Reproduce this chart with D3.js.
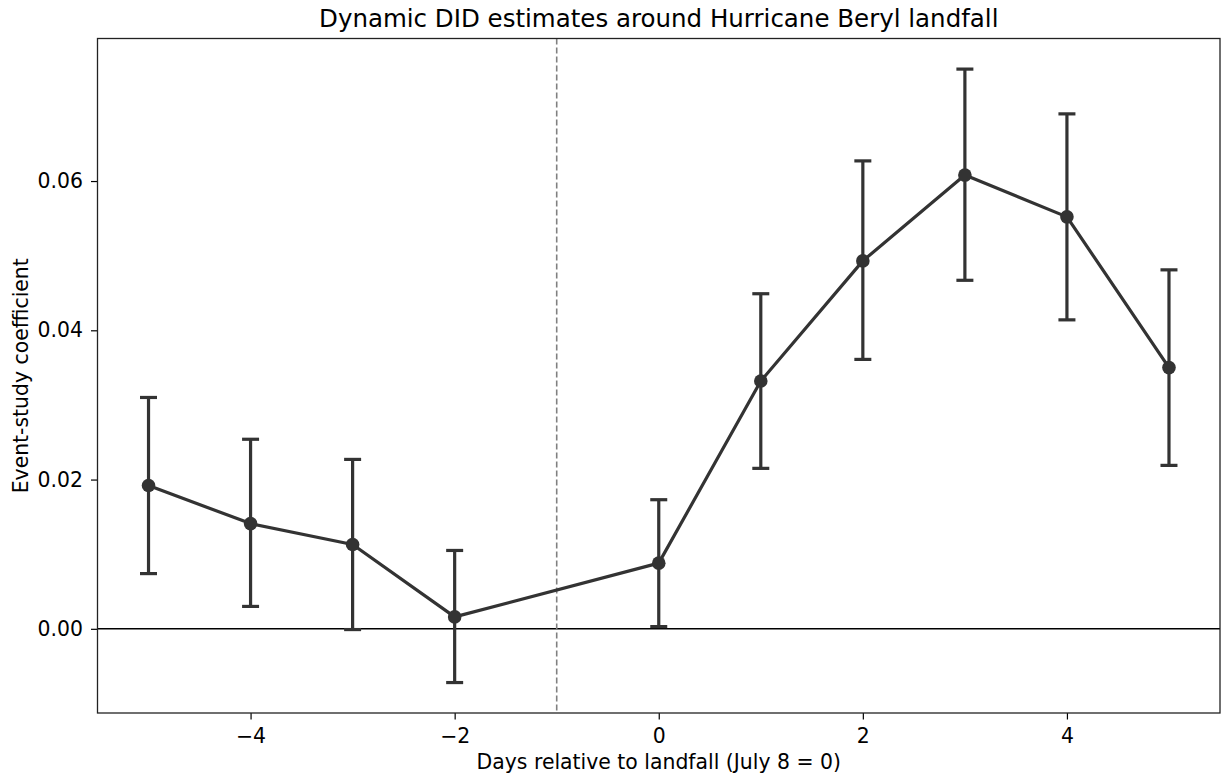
<!DOCTYPE html>
<html>
<head>
<meta charset="utf-8">
<script src="https://cdn.jsdelivr.net/npm/d3@7"></script>
<style>
  html, body { margin: 0; padding: 0; background: #fff; }
  svg { display: block; font-family: "DejaVu Sans", sans-serif; }
</style>
</head>
<body>
<svg id="chart" width="1225" height="779"></svg>
<script>
// ---- data ----
const days = [-5, -4, -3, -2, 0, 1, 2, 3, 4, 5];
const coef = [0.0192, 0.0141, 0.0113, 0.0016, 0.0088, 0.0332, 0.0493, 0.0608, 0.0552, 0.0350];
const ciLow = [0.0074, 0.0030, -0.0001, -0.0072, 0.0003, 0.0215, 0.0361, 0.0467, 0.0414, 0.0219];
const ciHigh = [0.0310, 0.0254, 0.0227, 0.0105, 0.0173, 0.0449, 0.0627, 0.0750, 0.0690, 0.0481];
const xTicks = [-4, -2, 0, 2, 4];
const yTicks = [0.00, 0.02, 0.04, 0.06];
const refDay = -1;

const titleText = "Dynamic DID estimates around Hurricane Beryl landfall";
const xLabel = "Days relative to landfall (July 8 = 0)";
const yLabel = "Event-study coefficient";

// ---- layout ----
const svg = d3.select("#chart");
const margin = { left: 97.5, top: 38.5, right: 1220, bottom: 713 };
const x = d3.scaleLinear().domain([-5.5, 5.5]).range([margin.left, margin.right]);
const y = d3.scaleLinear().domain([-0.01128, 0.07910]).range([margin.bottom, margin.top]);

const color = "#333333";
const data = days.map((d, i) => ({ d, c: coef[i], lo: ciLow[i], hi: ciHigh[i] }));

// zero line
svg.append("line")
  .attr("x1", margin.left).attr("x2", margin.right)
  .attr("y1", y(0)).attr("y2", y(0))
  .attr("stroke", "#000").attr("stroke-width", 1.6);

// reference dashed line
svg.append("line")
  .attr("x1", x(refDay)).attr("x2", x(refDay))
  .attr("y1", margin.top).attr("y2", margin.bottom)
  .attr("stroke", "#808080").attr("stroke-width", 1.6)
  .attr("stroke-dasharray", "6,3");

// error bars
const eb = svg.append("g").attr("stroke", color).attr("stroke-width", 3.2);
eb.selectAll("line.v").data(data).join("line")
  .attr("class", "v")
  .attr("x1", d => x(d.d)).attr("x2", d => x(d.d))
  .attr("y1", d => y(d.lo)).attr("y2", d => y(d.hi));
eb.selectAll("line.capT").data(data).join("line")
  .attr("class", "capT")
  .attr("x1", d => x(d.d) - 8.5).attr("x2", d => x(d.d) + 8.5)
  .attr("y1", d => y(d.hi)).attr("y2", d => y(d.hi));
eb.selectAll("line.capB").data(data).join("line")
  .attr("class", "capB")
  .attr("x1", d => x(d.d) - 8.5).attr("x2", d => x(d.d) + 8.5)
  .attr("y1", d => y(d.lo)).attr("y2", d => y(d.lo));

// line
svg.append("path")
  .datum(data)
  .attr("fill", "none")
  .attr("stroke", color)
  .attr("stroke-width", 3.2)
  .attr("stroke-linejoin", "round")
  .attr("d", d3.line().x(d => x(d.d)).y(d => y(d.c)));

// points
svg.selectAll("circle.pt").data(data).join("circle")
  .attr("class", "pt")
  .attr("cx", d => x(d.d)).attr("cy", d => y(d.c))
  .attr("r", 6.8).attr("fill", color);

// axes
const xAxis = d3.axisBottom(x).tickValues(xTicks).tickSize(6.5).tickPadding(9)
  .tickFormat(d => d < 0 ? "\u2212" + Math.abs(d) : String(d));
const yAxis = d3.axisLeft(y).tickValues(yTicks).tickSize(6.5).tickPadding(8)
  .tickFormat(d3.format(".2f"));

const gx = svg.append("g").attr("transform", `translate(0,${margin.bottom})`).call(xAxis);
const gy = svg.append("g").attr("transform", `translate(${margin.left},0)`).call(yAxis);
[gx, gy].forEach(g => {
  g.select(".domain").remove();
  g.selectAll(".tick line").attr("stroke", "#000").attr("stroke-width", 1.2);
  g.selectAll(".tick text").attr("fill", "#000").style("font-size", "20.4px")
    .style("font-family", "'DejaVu Sans', sans-serif");
});

// frame
svg.append("rect")
  .attr("x", margin.left).attr("y", margin.top)
  .attr("width", margin.right - margin.left).attr("height", margin.bottom - margin.top)
  .attr("fill", "none").attr("stroke", "#222").attr("stroke-width", 1.3);

// title
svg.append("text")
  .attr("x", (margin.left + margin.right) / 2).attr("y", 27)
  .attr("text-anchor", "middle")
  .style("font-size", "24.5px").attr("fill", "#000")
  .text(titleText);

// x label
svg.append("text")
  .attr("x", (margin.left + margin.right) / 2).attr("y", 769)
  .attr("text-anchor", "middle")
  .style("font-size", "20.4px").attr("fill", "#000")
  .text(xLabel);

// y label
svg.append("text")
  .attr("transform", `translate(28,${(margin.top + margin.bottom) / 2}) rotate(-90)`)
  .attr("text-anchor", "middle")
  .style("font-size", "20.4px").attr("fill", "#000")
  .text(yLabel);
</script>
</body>
</html>
